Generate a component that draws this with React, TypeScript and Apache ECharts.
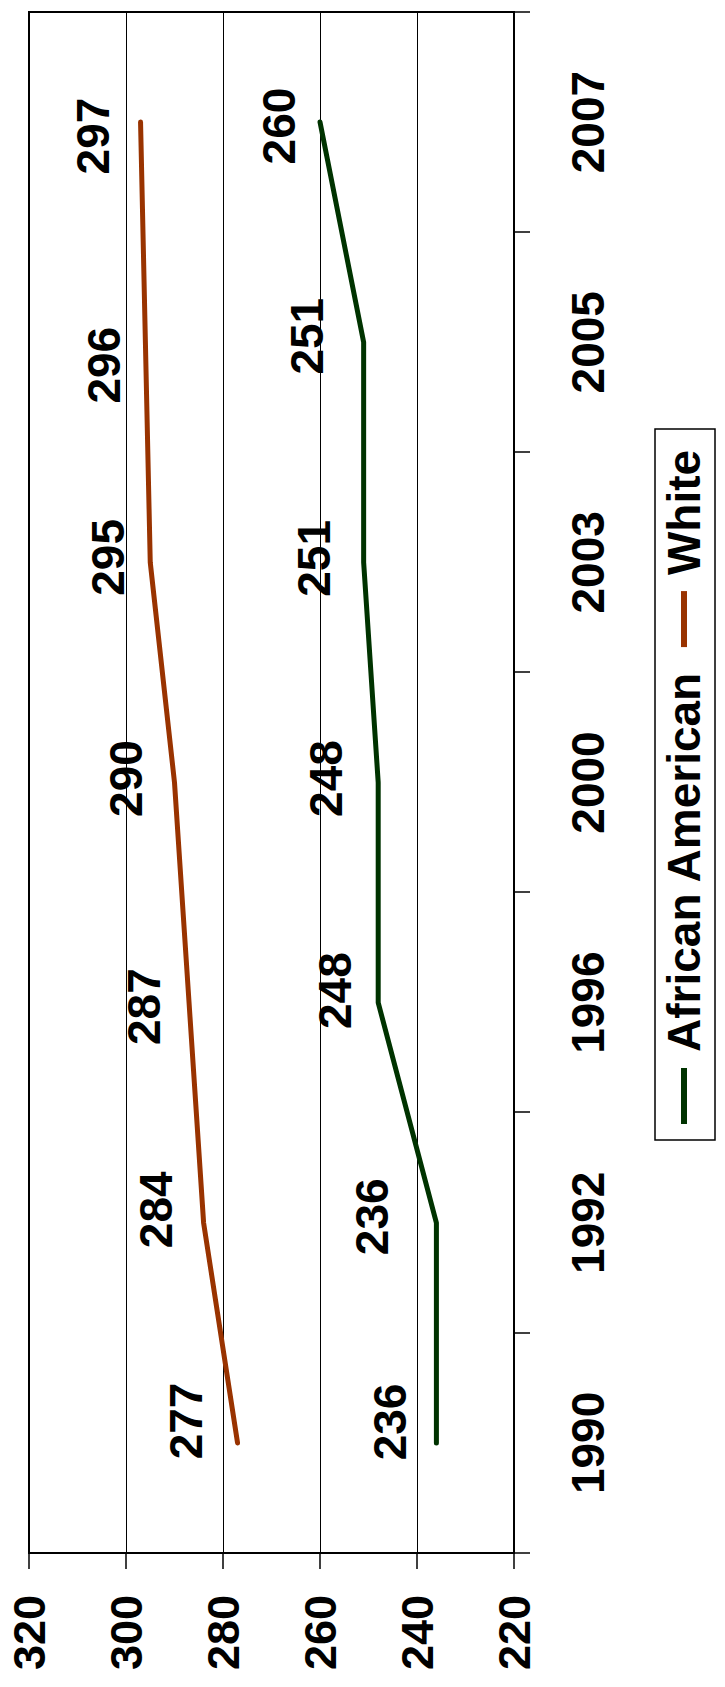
import React, { useEffect, useRef } from "react";
import * as echarts from "echarts";

// ---- data ----
const years = ["1990", "1992", "1996", "2000", "2003", "2005", "2007"];
const africanAmerican = [236, 236, 248, 248, 251, 251, 260];
const white = [277, 284, 287, 290, 295, 296, 297];
const valueTicks = { min: 220, max: 320, interval: 20 };

// ---- label placement (style only): [shift along years, shift along values] ----
const aaLabelOffsets: [number, number][] = [
  [21, -22], [6, -40], [12, -19], [4, -28], [4, -26], [6, -33], [-4, -17],
];
const whiteLabelOffsets: [number, number][] = [
  [22, -28], [13, -24], [-4, -21], [4, -25], [5, -18], [-23, -17], [-14, -24],
];

const FONT = "'Liberation Sans', Arial, Helvetica, sans-serif";
const AA_COLOR = "#003300";
const WHITE_COLOR = "#993300";

export default function App() {
  const ref = useRef<HTMLDivElement>(null);

  useEffect(() => {
    if (!ref.current) return;
    const chart = echarts.init(ref.current, undefined, { renderer: "svg" });
    const labelBase = {
      show: true,
      position: "top",
      distance: 0,
      fontFamily: FONT,
      fontWeight: "bold",
      fontSize: 46,
      color: "#000",
    };
    const mk = (vals: number[], offs: [number, number][]) =>
      vals.map((v, i) => ({ value: v, label: { ...labelBase, offset: offs[i] } }));

    chart.setOption({
      animation: false,
      backgroundColor: "#fff",
      textStyle: { fontFamily: FONT },
      grid: {
        left: 134,
        right: 12,
        top: 29,
        bottom: 211,
        show: true,
        borderColor: "#000",
        borderWidth: 2,
        containLabel: false,
      },
      legend: {
        left: 547,
        top: 655,
        orient: "horizontal",
        icon: "rect",
        itemWidth: 56,
        itemHeight: 6,
        itemGap: 24,
        padding: [6, 21, 8, 16],
        borderColor: "#000",
        borderWidth: 1.5,
        textStyle: {
          fontFamily: FONT,
          fontWeight: "bold",
          fontSize: 46,
          color: "#000",
          padding: [0, 0, 0, 11],
        },
        data: ["African American", "White"],
      },
      xAxis: {
        type: "category",
        data: years,
        boundaryGap: true,
        axisLine: { show: true, lineStyle: { color: "#000", width: 2 } },
        axisTick: { show: true, length: 16, inside: false, lineStyle: { color: "#000", width: 1.5 } },
        axisLabel: {
          margin: 51,
          fontFamily: FONT,
          fontWeight: "bold",
          fontSize: 46,
          color: "#000",
        },
        splitLine: { show: false },
      },
      yAxis: {
        type: "value",
        min: valueTicks.min,
        max: valueTicks.max,
        interval: valueTicks.interval,
        axisLine: { show: true, lineStyle: { color: "#000", width: 2 } },
        axisTick: { show: true, length: 16, inside: false, lineStyle: { color: "#000", width: 1.5 } },
        axisLabel: {
          margin: 42,
          fontFamily: FONT,
          fontWeight: "bold",
          fontSize: 45,
          color: "#000",
        },
        splitLine: { show: true, lineStyle: { color: "#000", width: 1 } },
      },
      series: [
        {
          name: "African American",
          type: "line",
          data: mk(africanAmerican, aaLabelOffsets),
          symbol: "circle",
          symbolSize: 2,
          lineStyle: { color: AA_COLOR, width: 5, cap: "round", join: "round" },
          itemStyle: { color: AA_COLOR },
          label: labelBase,
        },
        {
          name: "White",
          type: "line",
          data: mk(white, whiteLabelOffsets),
          symbol: "circle",
          symbolSize: 2,
          lineStyle: { color: WHITE_COLOR, width: 5, cap: "round", join: "round" },
          itemStyle: { color: WHITE_COLOR },
          label: labelBase,
        },
      ],
    });
    return () => chart.dispose();
  }, []);

  return (
    <div
      style={{
        position: "fixed",
        left: 0,
        top: 0,
        width: 725,
        height: 1687,
        overflow: "hidden",
        background: "#fff",
      }}
    >
      <div
        ref={ref}
        style={{
          position: "absolute",
          width: 1687,
          height: 725,
          left: (725 - 1687) / 2,
          top: (1687 - 725) / 2,
          transform: "rotate(-90deg)",
          transformOrigin: "50% 50%",
        }}
      />
    </div>
  );
}
